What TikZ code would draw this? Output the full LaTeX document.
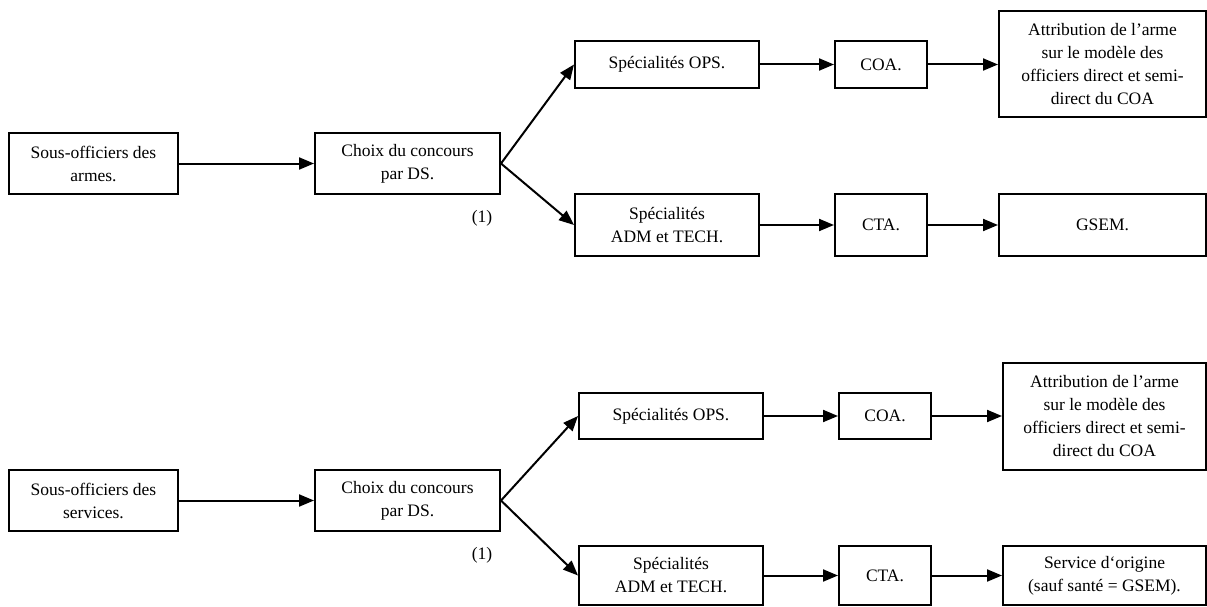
\documentclass[tikz,border=0pt]{standalone}
\usepackage{fontspec}
\setmainfont{Liberation Serif}
\usetikzlibrary{arrows.meta}

\begin{document}
\begin{tikzpicture}[x=1pt,y=-1pt,
  boite/.style={draw,line width=2pt,align=center,inner sep=0pt,font=\fontsize{17.5}{23}\selectfont},
  fleche/.style={line width=2pt,-{Triangle[length=15pt,width=12pt]}},
  renvoi/.style={font=\fontsize{17.5}{20}\selectfont}]
  \useasboundingbox (0,0) rectangle (1207,607);

  % sous-officiers des armes
  \node[boite,minimum width=169pt,minimum height=61pt] (sofa) at (93.5,163.5) {Sous-officiers des\\armes.};
  \node[boite,minimum width=185pt,minimum height=61pt] (choixa) at (407.5,163.5) {Choix du concours\\par DS.};
  \node[renvoi] (renvoia) at (482,218) {(1)};
  \node[boite,minimum width=184pt,minimum height=47pt] (opsa) at (667,64.5) {Spécialités OPS.};
  \node[boite,minimum width=92pt,minimum height=47pt] (coaa) at (881,64.5) {COA.};
  \node[boite,minimum width=207pt,minimum height=106pt] (arme) at (1102.5,64.5) {Attribution de l’arme\\sur le modèle des\\officiers direct et semi-\\direct du COA};
  \node[boite,minimum width=184pt,minimum height=62pt] (adma) at (667,225) {Spécialités\\ADM et TECH.};
  \node[boite,minimum width=92pt,minimum height=62pt] (ctaa) at (881,225) {CTA.};
  \node[boite,minimum width=207pt,minimum height=62pt] (gsem) at (1102.5,225) {GSEM.};

  \draw[fleche] (sofa) -- (choixa);
  \draw[fleche] (choixa.east) -- (opsa.west);
  \draw[fleche] (choixa.east) -- (adma.west);
  \draw[fleche] (opsa) -- (coaa);
  \draw[fleche] (coaa) -- (arme);
  \draw[fleche] (adma) -- (ctaa);
  \draw[fleche] (ctaa) -- (gsem);

  % sous-officiers des services
  \node[boite,minimum width=169pt,minimum height=61pt] (sofs) at (93.5,500.5) {Sous-officiers des\\services.};
  \node[boite,minimum width=185pt,minimum height=61pt] (choixs) at (407.5,500.5) {Choix du concours\\par DS.};
  \node[renvoi] (renvois) at (482,555) {(1)};
  \node[boite,minimum width=184pt,minimum height=46pt] (opss) at (671,416) {Spécialités OPS.};
  \node[boite,minimum width=92pt,minimum height=46pt] (coas) at (885,416) {COA.};
  \node[boite,minimum width=203pt,minimum height=107pt] (armes) at (1104.5,416) {Attribution de l’arme\\sur le modèle des\\officiers direct et semi-\\direct du COA};
  \node[boite,minimum width=184pt,minimum height=59pt] (adms) at (671,575.5) {Spécialités\\ADM et TECH.};
  \node[boite,minimum width=92pt,minimum height=59pt] (ctas) at (885,575.5) {CTA.};
  \node[boite,minimum width=203pt,minimum height=59pt] (origine) at (1104.5,575.5) {Service d`origine\\(sauf santé = GSEM).};

  \draw[fleche] (sofs) -- (choixs);
  \draw[fleche] (choixs.east) -- (opss.west);
  \draw[fleche] (choixs.east) -- (adms.west);
  \draw[fleche] (opss) -- (coas);
  \draw[fleche] (coas) -- (armes);
  \draw[fleche] (adms) -- (ctas);
  \draw[fleche] (ctas) -- (origine);
\end{tikzpicture}
\end{document}
